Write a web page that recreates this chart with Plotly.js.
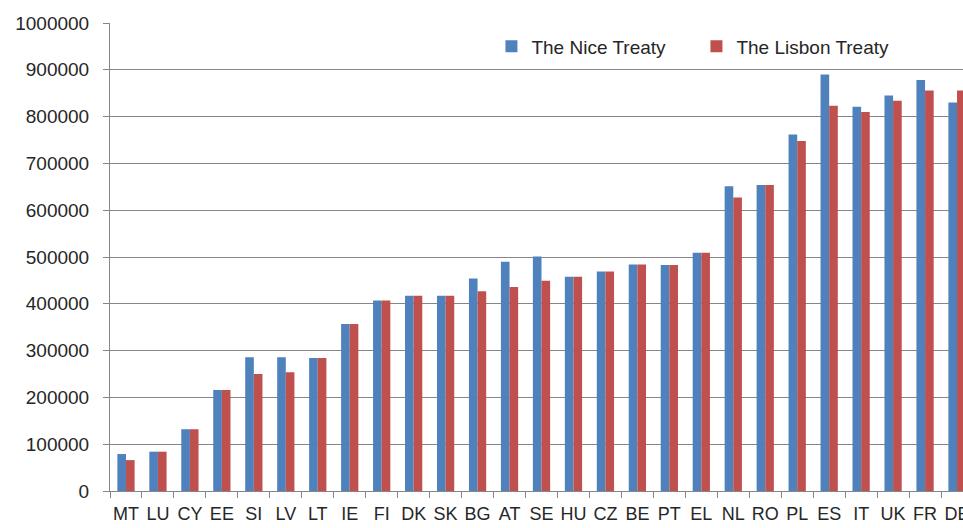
<!DOCTYPE html>
<html>
<head>
<meta charset="utf-8">
<script src="https://cdn.plot.ly/plotly-3.0.1.min.js"></script>
<style>
html,body{margin:0;padding:0;overflow:hidden;background:#fff;}
#chart{width:1000px;height:528px;}
</style>
</head>
<body>
<div id="chart"></div>
<script>
const countries = ["MT","LU","CY","EE","SI","LV","LT","IE","FI","DK","SK","BG","AT","SE","HU","CZ","BE","PT","EL","NL","RO","PL","ES","IT","UK","FR","DE"];
const niceTreaty = [79000,84000,132000,216000,286000,286000,284000,357000,407000,417000,417000,454000,490000,501000,458000,469000,484000,483000,509000,651000,654000,762000,890000,821000,845000,878000,830000];
const lisbonTreaty = [66000,84000,132000,216000,250000,254000,284000,357000,407000,417000,417000,427000,436000,449000,458000,469000,484000,483000,509000,627000,654000,748000,823000,810000,834000,856000,856000];
const yTicks = [0,100000,200000,300000,400000,500000,600000,700000,800000,900000,1000000];

const font = {family: "Liberation Sans, Arial, sans-serif", size: 19, color: "#262626"};
const xFont = {family: "Liberation Sans, Arial, sans-serif", size: 18, color: "#262626"};

const traces = [
  {type: "bar", name: "The Nice Treaty", x: countries, y: niceTreaty,
   marker: {color: "#4F81BD", line: {width: 0}}},
  {type: "bar", name: "The Lisbon Treaty", x: countries, y: lisbonTreaty,
   marker: {color: "#C0504D", line: {width: 0}}}
];

const layout = {
  width: 1000, height: 528,
  margin: {l: 110, r: 27, t: 23, b: 37},
  paper_bgcolor: "#fff", plot_bgcolor: "#fff",
  barmode: "group", bargap: 0.46, bargroupgap: 0,
  font: font,
  showlegend: true,
  legend: {orientation: "h", x: 0.442, xanchor: "left", y: 0.95, yanchor: "middle",
           bgcolor: "rgba(0,0,0,0)", font: font, entrywidth: 160, traceorder: "normal"},
  xaxis: {type: "category", showgrid: false, showline: true, linecolor: "#868686", linewidth: 1,
          ticks: "outside", tickson: "boundaries", ticklen: 6, tickcolor: "#868686",
          tickangle: 0, ticklabelstandoff: 6, tickfont: xFont, fixedrange: true},
  yaxis: {range: [0, 1000000], tickvals: yTicks, ticktext: yTicks.map(String),
          showgrid: true, gridcolor: "#868686", gridwidth: 1, zeroline: false,
          showline: true, linecolor: "#868686", linewidth: 1,
          ticks: "outside", ticklen: 6, tickcolor: "#868686", ticklabelstandoff: 10,
          tickfont: font, fixedrange: true}
};

Plotly.newPlot("chart", traces, layout, {displayModeBar: false, staticPlot: true});
</script>
</body>
</html>
